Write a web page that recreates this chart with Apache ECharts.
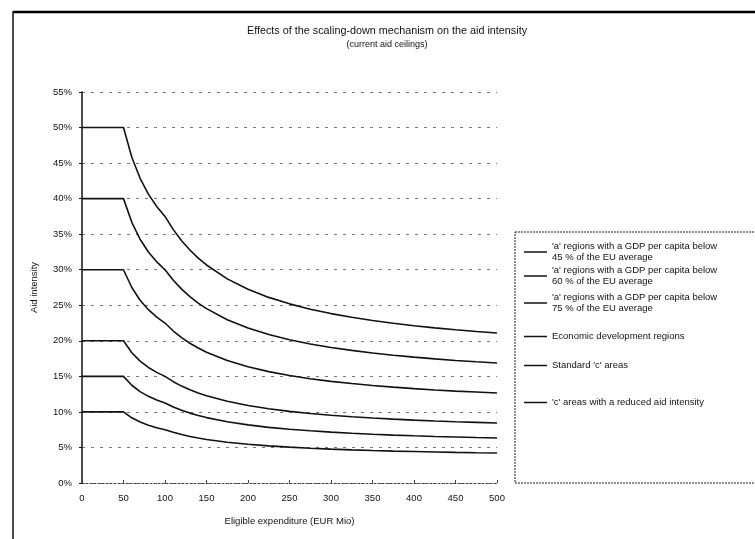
<!DOCTYPE html>
<html>
<head>
<meta charset="utf-8">
<script src="https://cdn.jsdelivr.net/npm/echarts@6/dist/echarts.min.js"></script>
<style>html,body{margin:0;padding:0;background:#fff}#c{width:755px;height:539px}</style>
</head>
<body>
<div id="c"></div>
<script>
const expenditure = [0,50,60,70,80,90,100,110,120,130,140,150,175,200,225,250,275,300,325,350,375,400,425,450,475,500];
const below45 = [50,50,45.83,42.86,40.63,38.89,37.5,35.64,34.08,32.77,31.64,30.67,28.71,27.25,26.11,25.2,24.45,23.83,23.31,22.86,22.47,22.13,21.82,21.56,21.32,21.1];
const below60 = [40,40,36.67,34.29,32.5,31.11,30,28.51,27.27,26.22,25.31,24.53,22.97,21.8,20.89,20.16,19.56,19.07,18.65,18.29,17.97,17.7,17.46,17.24,17.05,16.88];
const below75 = [30,30,27.5,25.71,24.38,23.33,22.5,21.38,20.45,19.66,18.99,18.4,17.23,16.35,15.67,15.12,14.67,14.3,13.99,13.71,13.48,13.28,13.09,12.93,12.79,12.66];
const economicDev = [20,20,18.33,17.14,16.25,15.56,15,14.25,13.63,13.11,12.66,12.27,11.49,10.9,10.44,10.08,9.78,9.53,9.32,9.14,8.99,8.85,8.73,8.62,8.53,8.44];
const standardC = [15,15,13.75,12.86,12.19,11.67,11.25,10.69,10.23,9.83,9.49,9.2,8.61,8.18,7.83,7.56,7.34,7.15,6.99,6.86,6.74,6.64,6.55,6.47,6.39,6.33];
const reducedC = [10,10,9.17,8.57,8.13,7.78,7.5,7.13,6.82,6.55,6.33,6.13,5.74,5.45,5.22,5.04,4.89,4.77,4.66,4.57,4.49,4.43,4.37,4.31,4.26,4.22];
const seriesNames = [
  "'a' regions with a GDP per capita below\n45 % of the EU average",
  "'a' regions with a GDP per capita below\n60 % of the EU average",
  "'a' regions with a GDP per capita below\n75 % of the EU average",
  "Economic development regions",
  "Standard 'c' areas",
  "'c' areas with a reduced aid intensity"
];
const seriesValues = [below45, below60, below75, economicDev, standardC, reducedC];
const legendTops = [236, 260, 287, 326, 355, 392];

const font = 'Liberation Sans, Arial, sans-serif';
const chart = echarts.init(document.getElementById('c'));
chart.setOption({
  backgroundColor: '#fff',
  animation: false,
  title: {
    text: 'Effects of the scaling-down mechanism on the aid intensity',
    subtext: '(current aid ceilings)',
    left: 382, top: 21, textAlign: 'center', itemGap: 3,
    textStyle: {fontFamily: font, fontSize: 10.8, fontWeight: 'normal', color: '#111'},
    subtextStyle: {fontFamily: font, fontSize: 9, color: '#111'}
  },
  grid: {left: 82, right: 258, top: 92, bottom: 56},
  legend: seriesNames.map((n, i) => ({
    data: [n], left: 519, top: legendTops[i], orient: 'vertical',
    icon: 'rect', itemWidth: 23, itemHeight: 1.5, itemGap: 0,
    textStyle: {fontFamily: font, fontSize: 9.5, color: '#111', lineHeight: 11},
    selectedMode: false
  })),
  xAxis: {
    type: 'value', min: 0, max: 500, interval: 50,
    name: 'Eligible expenditure (EUR Mio)', nameLocation: 'middle', nameGap: 33,
    nameTextStyle: {fontFamily: font, fontSize: 9.5, color: '#111'},
    axisLine: {lineStyle: {color: '#444', type: [2, 2], width: 1}},
    axisTick: {show: true, inside: true, length: 3, lineStyle: {color: '#444'}},
    axisLabel: {fontFamily: font, fontSize: 9.5, color: '#111', margin: 10},
    splitLine: {show: false}
  },
  yAxis: {
    type: 'value', min: 0, max: 55, interval: 5,
    name: 'Aid intensity', nameLocation: 'middle', nameGap: 43, nameRotate: 90,
    nameTextStyle: {fontFamily: font, fontSize: 9.5, color: '#111'},
    axisLine: {show: true, lineStyle: {color: '#111', width: 1.5}},
    axisTick: {show: true, length: 3, lineStyle: {color: '#111'}},
    axisLabel: {fontFamily: font, fontSize: 9.5, color: '#111', formatter: '{value}%', margin: 10},
    splitLine: {lineStyle: {color: '#777', type: [3, 6], width: 1}}
  },
  graphic: [
    {type: 'rect', shape: {x: 13, y: 12, width: 800, height: 600}, style: {fill: 'none', stroke: '#111', lineWidth: 1.5}, silent: true},
    {type: 'line', shape: {x1: 13, y1: 12, x2: 755, y2: 12}, style: {stroke: '#000', lineWidth: 2.5}, silent: true},
    {type: 'rect', shape: {x: 515, y: 232, width: 300, height: 251}, style: {fill: 'none', stroke: '#222', lineWidth: 1, lineDash: [2, 1]}, silent: true}
  ],
  series: seriesValues.map((vals, i) => ({
    name: seriesNames[i], type: 'line', symbol: 'none',
    lineStyle: {color: '#111', width: 1.6},
    itemStyle: {color: '#111'},
    data: expenditure.map((x, j) => [x, vals[j]])
  }))
});
</script>
</body>
</html>
